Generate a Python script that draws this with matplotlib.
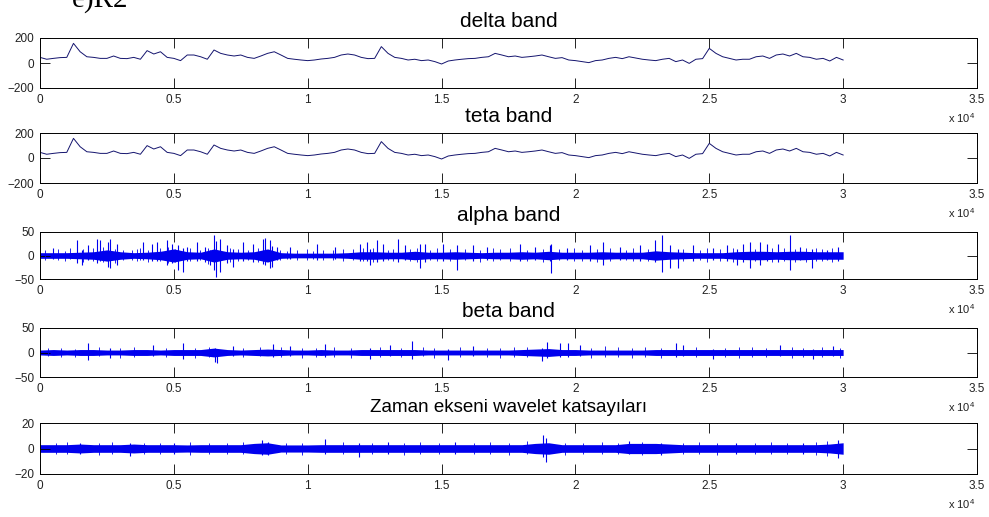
import matplotlib.pyplot as plt
import numpy as np

plt.rcParams["font.family"] = ["Liberation Sans", "DejaVu Sans"]
plt.rcParams["mathtext.fontset"] = "custom"
plt.rcParams["mathtext.rm"] = "Liberation Sans"

# sample grids (one reading every 250 / 500 samples)
delta_x = np.arange(0, 30001, 250)
core_x = np.arange(0, 30001, 500)

# delta band
delta_vals = [45, 30, 37, 43, 45, 157, 90, 50, 45, 37,
              37, 56, 37, 35, 45, 30, 99, 72, 90, 45,
              37, 19, 64, 64, 50, 30, 104, 77, 64, 56,
              64, 45, 37, 56, 77, 90, 64, 37, 30, 24,
              19, 24, 32, 37, 45, 64, 72, 64, 45, 35,
              37, 131, 77, 45, 37, 24, 30, 19, 24, 11,
              -8, 16, 24, 30, 35, 37, 45, 50, 77, 64,
              50, 56, 45, 50, 56, 64, 50, 37, 43, 24,
              19, 11, 3, 19, 24, 37, 45, 35, 50, 40,
              30, 24, 19, 30, 37, 11, 24, -3, 30, 35,
              117, 77, 50, 37, 24, 30, 30, 50, 56, 37,
              64, 72, 56, 77, 50, 45, 30, 37, 16, 45,
              24]
# teta band looks the same as delta in the figure
teta_vals = list(delta_vals)

# dense bands: half-width of the solid core, every 500 samples
alpha_core = [6, 6, 6, 7, 8, 12, 8, 6, 7, 9, 14, 8, 7, 14, 8, 7, 8, 14, 6, 5,
              5, 5, 5, 6, 8, 8, 7, 7, 9, 7, 7, 8, 7, 6, 7, 7, 8, 7, 9, 7,
              7, 7, 8, 7, 7, 7, 10, 8, 7, 6, 6, 6, 8, 9, 9, 8, 9, 9, 8, 8, 8]
beta_core = [5, 6, 5, 6, 6, 5, 5, 6, 6, 5, 6, 6, 6, 9, 6, 5, 6, 7, 6, 5,
             5, 6, 5, 5, 6, 6, 6, 6, 6, 5, 5, 5, 5, 5, 5, 5, 6, 7, 8, 6,
             6, 5, 5, 5, 5, 5, 6, 6, 6, 6, 6, 6, 6, 6, 6, 6, 6, 6, 6, 6, 6]
wave_core = [3, 3, 3, 3.5, 3, 3, 3, 3.5, 3, 3, 3, 2.8, 3, 3, 3, 3,
             4, 4.5, 2.8, 2.8, 2.8, 3, 3, 3, 3, 3, 3, 3, 3, 3, 3, 3,
             3, 3, 3, 3, 3, 4, 4.5, 3, 3, 3, 3, 3, 4, 4, 4, 3.5,
             3, 3, 3, 3, 3, 3, 3, 3, 3, 3, 3, 3.5, 4.5]

# larger spikes: sample, top, bottom
alpha_spk_x = [500, 1370, 1560, 1800, 2120, 2240, 2550, 2620, 2860, 3860,
               4170, 4360, 4730, 4920, 5170, 5330, 5480, 5850, 6160, 6350,
               6510, 6570, 6720, 6970, 7220, 7590, 7970, 8340, 8400, 8590,
               8650, 8840, 9340, 10330, 11020, 11950, 12200, 12330, 12570, 12820,
               13380, 13630, 14190, 14380, 15070, 15560, 16180, 16680, 17930, 18490,
               19050, 19080, 19680, 20540, 21040, 21660, 22410, 22970, 23220, 23530,
               23840, 24400, 25150, 25650, 26020, 26270, 26520, 26890, 27140, 27580,
               28010, 28380, 28820, 29380, 29820]
alpha_spk_hi = [15, 32, 12, 23, 36, 32, 29, 36, 25, 29,
                25, 29, 32, 25, 22, 15, 18, 29, 18, 12,
                43, 30, 36, 22, 14, 29, 25, 36, 37, 32,
                20, 18, 18, 25, 18, 25, 29, 14, 32, 25,
                36, 22, 25, 25, 25, 22, 22, 18, 25, 18,
                22, 25, 15, 22, 29, 18, 22, 32, 43, 22,
                14, 22, 15, 22, 14, 25, 29, 29, 25, 25,
                43, 18, 14, 12, 18]
alpha_spk_lo = [-8, -17, -20, -10, -15, -12, -24, -27, -20, -10,
                -12, -12, -20, -15, -31, -35, -12, -12, -14, -20,
                -30, -45, -35, -15, -24, -12, -14, -18, -20, -27,
                -25, -10, -8, -10, -8, -12, -12, -20, -14, -12,
                -14, -10, -27, -14, -12, -31, -12, -10, -12, -10,
                -12, -38, -10, -12, -20, -10, -12, -14, -35, -27,
                -27, -12, -10, -12, -20, -14, -27, -20, -12, -14,
                -31, -10, -27, -10, -12]

# smaller spikes that roughen the core
alpha_min_x = [190, 680, 930, 1120, 1620, 1990, 2370, 2800, 3110, 3420,
               3610, 3740, 4050, 4480, 4790, 5040, 5600, 5980, 6290, 7100,
               7410, 7780, 8150, 8960, 9210, 9590, 9960, 10210, 10580, 10960,
               11330, 11700, 12080, 12450, 13010, 13200, 13820, 14070, 14570, 14820,
               15310, 15870, 16430, 16930, 17200, 17550, 18200, 18800, 19400, 19950,
               20250, 20800, 21300, 21900, 22150, 22700, 24000, 24650, 24900, 25400,
               25900, 26700, 27350, 27800, 28200, 28600, 29000, 29200, 29600]
alpha_min_hi = [12, 14, 10, 16, 13, 15, 18, 14, 12, 11,
                13, 16, 12, 15, 18, 14, 16, 12, 15, 17,
                13, 12, 15, 11, 10, 12, 13, 10, 12, 11,
                14, 13, 16, 15, 12, 14, 13, 17, 12, 15,
                14, 13, 12, 15, 13, 16, 12, 14, 13, 15,
                12, 14, 16, 12, 15, 13, 14, 12, 16, 13,
                15, 14, 17, 15, 14, 16, 15, 13, 16]
alpha_min_lo = [-10, -9, -12, -8, -14, -11, -13, -15, -10, -9,
                -12, -10, -14, -11, -16, -13, -12, -10, -18, -14,
                -11, -10, -13, -9, -8, -9, -10, -8, -9, -10,
                -11, -10, -12, -13, -10, -11, -12, -14, -10, -12,
                -11, -10, -13, -12, -10, -11, -12, -14, -10, -12,
                -11, -13, -12, -10, -12, -11, -12, -10, -13, -12,
                -14, -12, -13, -12, -13, -14, -12, -11, -13]

beta_spk_x = [1800, 2600, 4230, 5350, 6540, 6600, 7220, 8720, 9340, 10640,
              12330, 13070, 13880, 15250, 16190, 18740, 18920, 19420, 19730, 20170,
              23770, 24030, 25150, 27640, 28880, 29630]
beta_spk_hi = [20, 10, 15, 20, 10, 8, 13, 17, 13, 17,
               10, 15, 24, 8, 13, 10, 22, 20, 20, 15,
               20, 15, 8, 15, 8, 13]
beta_spk_lo = [-16, -12, -8, -14, -19, -21, -8, -10, -8, -9,
               -14, -8, -14, -15, -8, -17, -12, -10, -9, -8,
               -9, -8, -14, -8, -14, -8]
beta_min_x = [300, 800, 1300, 2200, 3000, 3500, 4700, 5800, 6300, 7600,
              8200, 9000, 9800, 10300, 11000, 11600, 12700, 13500, 14300, 14700,
              15700, 16700, 17200, 17700, 18200, 20600, 21100, 21600, 22100, 22600,
              23200, 24500, 25600, 26100, 26600, 27100, 28100, 28500, 29200, 29900]
beta_min_hi = [9, 10, 8, 11, 9, 12, 10, 9, 11, 10,
               12, 11, 9, 10, 12, 9, 11, 10, 12, 9,
               11, 10, 9, 12, 11, 10, 13, 12, 10, 11,
               9, 12, 10, 11, 12, 10, 11, 10, 12, 10]
beta_min_lo = [-8, -10, -9, -8, -11, -9, -10, -12, -9, -10,
               -8, -9, -11, -10, -9, -12, -10, -9, -8, -11,
               -10, -9, -12, -10, -9, -11, -10, -9, -12, -10,
               -11, -9, -10, -12, -9, -10, -11, -9, -10, -11]

wave_spk_x = [1500, 3360, 5000, 8280, 8500, 10640, 11900, 13000, 15500, 18800,
              18900, 22000, 23200, 26000, 28500, 29820]
wave_spk_hi = [4.5, 4, 4.5, 7, 5, 7.4, 4, 5, 5, 10.8,
               8, 5.5, 4, 4.5, 4.5, 6.8]
wave_spk_lo = [-4, -6, -4, -5, -5, -4, -6.3, -4, -4.5, -7,
               -10.3, -4, -5, -4.5, -4, -7.6]
wave_min_x = [600, 1000, 2200, 2700, 3900, 4500, 5600, 6300, 7000, 7600,
              9200, 9800, 11300, 12400, 13600, 14200, 14900, 16200, 16800, 17500,
              18200, 19600, 20300, 21000, 21600, 22500, 24000, 24600, 25300, 26700,
              27300, 27900, 29000, 29400]
wave_min_hi = [4.5, 5, 4.5, 5, 4, 4.5, 5, 4, 4.5, 5,
               4.5, 4, 5, 4.5, 4, 5, 4.5, 4, 5, 4.5,
               5.5, 4.5, 4, 5, 4.5, 5, 4.5, 5, 4, 4.5,
               5, 4.5, 5, 5.5]
wave_min_lo = [-4, -4.5, -5, -4, -4.5, -4, -5, -4.5, -4, -4.5,
               -4, -5, -4.5, -4, -5, -4.5, -4, -4.5, -4, -5,
               -4.5, -5, -4, -4.5, -4, -5, -4.5, -4, -5, -4.5,
               -4, -4.5, -5, -5.5]

xticks = [0, 5000, 10000, 15000, 20000, 25000, 30000, 35000]
xtick_labels = ["0", "0.5", "1", "1.5", "2", "2.5", "3", "3.5"]

W, H = 989, 517
fig = plt.figure(figsize=(W / 100, H / 100), dpi=100)

NAVY = "#14146e"
BLUE = "#0000ee"


def panel(top, bottom, title, ylim, tsize=15):
    ax = fig.add_axes([40 / W, 1 - bottom / H, 937 / W, (bottom - top) / H])
    ax.set_xlim(0, 35000)
    ax.set_ylim(-ylim, ylim)
    ax.set_xticks(xticks)
    ax.set_xticklabels(xtick_labels)
    ax.set_yticks([-ylim, 0, ylim])
    ax.tick_params(direction="in", length=7, width=0.6, top=True, right=True,
                   labelsize=8.5, labelcolor="#222222", pad=4)
    for s in ax.spines.values():
        s.set_linewidth(0.7)
    ax.set_title(title, fontsize=tsize, pad=8)
    fig.text(975 / W, 1 - (bottom + 30) / H, r"x 10$^{4}$", ha="right",
             va="center", fontsize=8, color="#222222")
    return ax


def dense(ax, core, spk, mins):
    ax.fill_between(core_x, -np.array(core), core, color=BLUE, lw=0)
    ax.vlines(*spk, color=BLUE, lw=0.8)
    ax.vlines(*mins, color=BLUE, lw=0.6)


ax = panel(38, 88, "delta band", 200)
ax.plot(delta_x, delta_vals, color=NAVY, lw=0.7)

ax = panel(133, 183, "teta band", 200)
ax.plot(delta_x, teta_vals, color=NAVY, lw=0.7)

ax = panel(232, 279, "alpha band", 50)
dense(ax, alpha_core, (alpha_spk_x, alpha_spk_lo, alpha_spk_hi),
      (alpha_min_x, alpha_min_lo, alpha_min_hi))

ax = panel(328, 377, "beta band", 50)
dense(ax, beta_core, (beta_spk_x, beta_spk_lo, beta_spk_hi),
      (beta_min_x, beta_min_lo, beta_min_hi))

ax = panel(423, 474, "Zaman ekseni wavelet katsayıları", 20, tsize=13.5)
dense(ax, wave_core, (wave_spk_x, wave_spk_lo, wave_spk_hi),
      (wave_min_x, wave_min_lo, wave_min_hi))

fig.text(72 / W, 1 - 7 / H, "e)R2", family="Liberation Serif", fontsize=21,
         ha="left", va="baseline")

fig.savefig("out.png", dpi=100)
